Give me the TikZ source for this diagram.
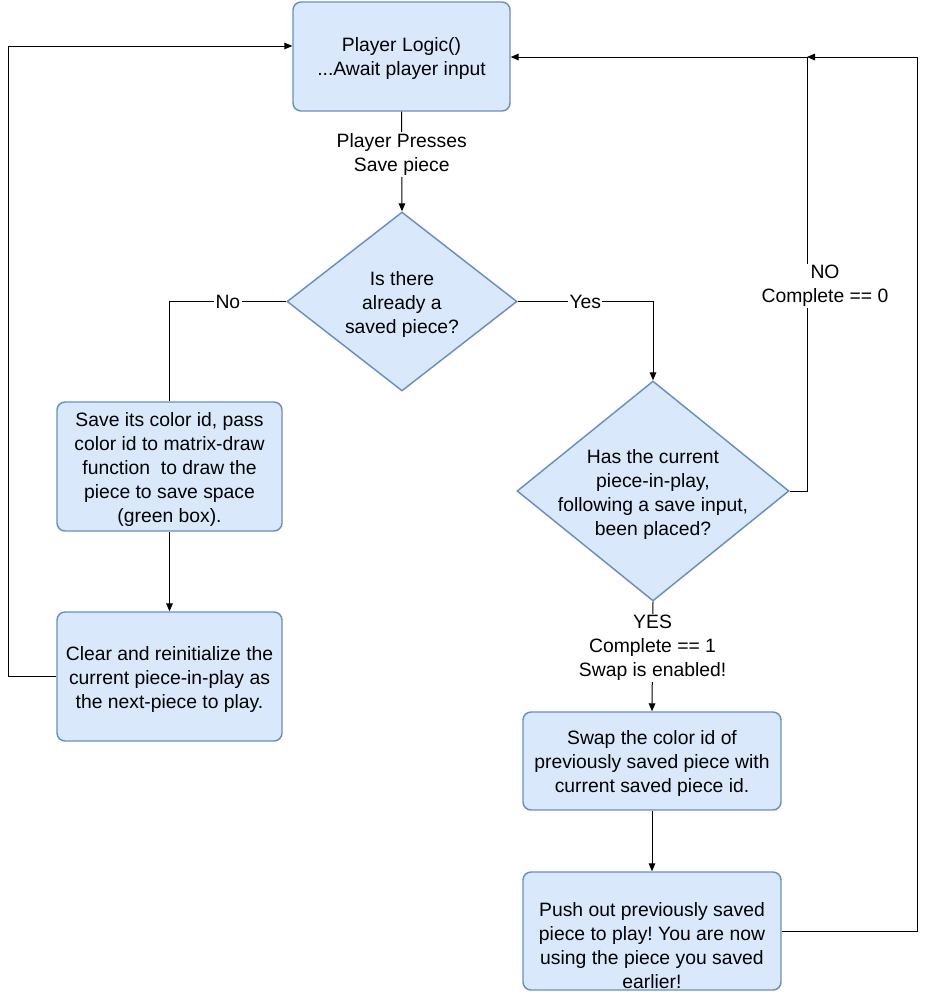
\documentclass[tikz,border=0pt]{standalone}
\usepackage{fontspec}
\setmainfont{Liberation Sans}
\usetikzlibrary{shapes.geometric,arrows.meta,calc}
\definecolor{boxfill}{HTML}{DAE8FC}
\definecolor{boxline}{HTML}{6C8EBF}
\begin{document}
\frenchspacing
\begin{tikzpicture}[x=0.75pt,y=-0.75pt,
  every node/.style={font=\fontsize{14.5}{18}\selectfont},
  procbox/.style={draw=boxline,fill=boxfill,line width=1.1pt,rounded corners=6pt,inner sep=0pt},
  decbox/.style={draw=boxline,fill=boxfill,line width=1.1pt,diamond,inner sep=0pt},
  txt/.style={align=center,inner sep=0pt},
  lbl/.style={fill=white,inner sep=1pt,align=center},
  arr/.style={draw=black,line width=0.75pt,-{Triangle[length=6pt,width=5pt]}},
  ln/.style={draw=black,line width=0.75pt}]
\useasboundingbox (0,0) rectangle (927,992);
\node[procbox,minimum width=217*0.75pt,minimum height=109*0.75pt] (b1) at (401.5,56.5) {};
\node[txt] (t1) at ($(b1)+(0,2.5)$) {Player Logic()\\ ...Await player input};
\node[decbox,minimum width=230*0.75pt,minimum height=179*0.75pt] (d1) at (402,301.5) {};
\node[txt] (td1) at ($(d1)+(0,2.5)$) {Is there\\already a\\saved piece?};
\node[procbox,minimum width=225*0.75pt,minimum height=129*0.75pt] (b2) at (169.5,466.5) {};
\node[txt] (t2) at ($(b2)+(0,2.5)$) {Save its color id, pass\\color id to matrix-draw\\function\ \ to draw the\\piece to save space\\(green box).};
\node[procbox,minimum width=225*0.75pt,minimum height=129*0.75pt] (b3) at (169.5,676.5) {};
\node[txt] (t3) at ($(b3)+(0,2.5)$) {Clear and reinitialize the\\current piece-in-play as\\the next-piece to play.};
\node[decbox,minimum width=272*0.75pt,minimum height=220*0.75pt] (d2) at (653,491) {};
\node[txt] (td2) at ($(d2)+(0,3.5)$) {Has the current\\piece-in-play,\\following a save input,\\been placed?};
\node[procbox,minimum width=258*0.75pt,minimum height=98*0.75pt] (b4) at (652,761) {};
\node[txt] (t4) at ($(b4)+(0,2.5)$) {Swap the color id of\\previously saved piece with\\current saved piece id.};
\node[procbox,minimum width=258*0.75pt,minimum height=118*0.75pt] (b5) at (652,931) {};
\node[txt] (t5) at ($(b5)+(0,14.5)$) {Push out previously saved\\piece to play! You are now\\using the piece you saved\\earlier!};
\coordinate (lt) at (8,46);
\coordinate (nr) at (807,57);
\coordinate (rr) at (917,57);
\draw[arr] (b1.south) -- node[lbl,pos=0.43] {Player Presses\\Save piece} (d1.north);
\draw[ln] (d1.west) -| node[lbl,pos=0.25] {No} (b2.north);
\draw[arr] (d1.east) -| node[lbl,pos=0.25] {Yes} (d2.north);
\draw[arr] (b2.south) -- (b3.north);
\draw[arr] (b3.west) -| (lt) -- (lt -| b1.west);
\draw[arr] (d2.east) -| (nr) -- (nr -| b1.east);
\node[lbl] (l2) at (825,286) {NO\\Complete == 0};
\draw[arr] (d2.south) -- node[lbl,pos=0.42] {YES\\Complete == 1\\Swap is enabled!} (b4.north);
\draw[arr] (b4.south) -- (b5.north);
\draw[arr] (b5.east) -| (rr) -- (nr);
\end{tikzpicture}
\end{document}
